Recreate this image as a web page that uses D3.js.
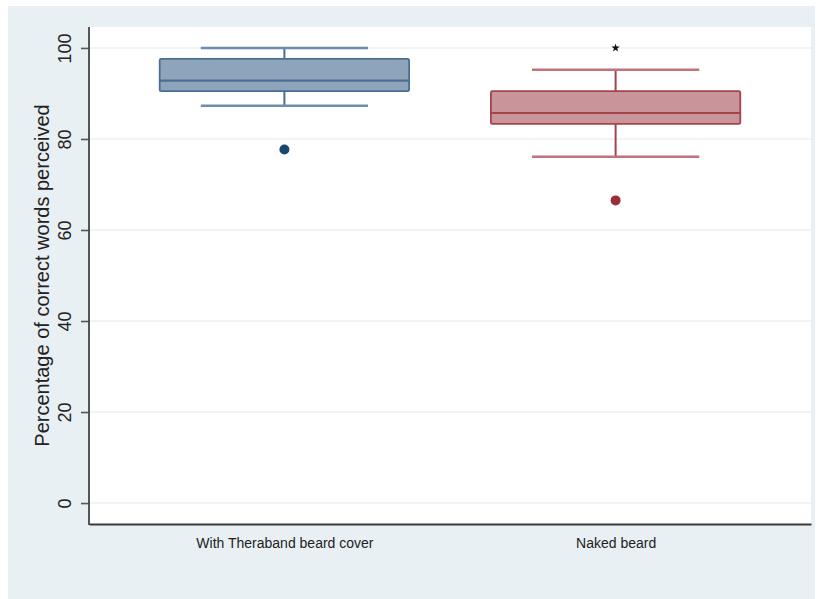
<!DOCTYPE html>
<html>
<head>
<meta charset="utf-8">
<script src="https://cdn.jsdelivr.net/npm/d3@7"></script>
<style>
  html, body { margin: 0; padding: 0; background: #ffffff; }
  svg { display: block; font-family: "Liberation Sans", Arial, Helvetica, sans-serif; }
</style>
</head>
<body>
<svg id="chart" width="819" height="599"></svg>
<script>
// Box plot summary per group
const categories = ["With Theraband beard cover", "Naked beard"];
const lowerWhisker = [87.3, 76.1];
const q1 = [90.5, 83.3];
const median = [92.8, 85.7];
const q3 = [97.6, 90.5];
const upperWhisker = [100, 95.2];
const outlierDots = [[77.7], [66.5]];
const outlierStars = [[], [100]];
const yTicks = [0, 20, 40, 60, 80, 100];
const yTitle = "Percentage of correct words perceived";

const palette = [
  { fill: "#8ea4ba", stroke: "#4a6f95", cap: "#6e8dad", dot: "#1a476f" },
  { fill: "#c9959b", stroke: "#a6444d", cap: "#c0737b", dot: "#9a2f38" }
];

const svg = d3.select("#chart");
const W = 819, H = 599;
const plot = { left: 89, right: 811, top: 27, bottom: 524 };

// outer background panel
svg.append("rect").attr("x", 8).attr("y", 6).attr("width", 807).attr("height", H - 6)
  .attr("fill", "#e9f0f3");
// plot region
svg.append("rect").attr("x", plot.left).attr("y", plot.top)
  .attr("width", plot.right - plot.left).attr("height", plot.bottom - plot.top)
  .attr("fill", "#ffffff");

const y = d3.scaleLinear().domain([-4.6, 104.6]).range([plot.bottom, plot.top]);
const x = d3.scalePoint().domain(categories).range([plot.left, plot.right]).padding(0.59);
const step = x.step();
const boxW = step * 0.753;
const capW = step * 0.505;

// gridlines
svg.append("g").selectAll("line").data(yTicks).join("line")
  .attr("x1", plot.left).attr("x2", plot.right)
  .attr("y1", d => y(d)).attr("y2", d => y(d))
  .attr("stroke", "#eaf1f2").attr("stroke-width", 1.5);

// y axis
const yAxis = svg.append("g").attr("transform", `translate(${plot.left},0)`)
  .call(d3.axisLeft(y).tickValues(yTicks).tickSize(8).tickPadding(0).tickFormat(d3.format("d")));
yAxis.select(".domain").remove();
yAxis.selectAll(".tick line").attr("stroke", "#555").attr("stroke-width", 1.6);
yAxis.selectAll(".tick text").remove();
yAxis.selectAll(".tick").append("text")
  .attr("transform", "translate(-24,0) rotate(-90)")
  .attr("text-anchor", "middle").attr("dy", "0.35em")
  .attr("fill", "#222").attr("font-size", 18)
  .text(d => d3.format("d")(d));

svg.append("line").attr("x1", plot.left).attr("x2", plot.left)
  .attr("y1", plot.top).attr("y2", plot.bottom + 1)
  .attr("stroke", "#444").attr("stroke-width", 1.8);

// x axis
const xAxis = svg.append("g").attr("transform", `translate(0,${plot.bottom})`)
  .call(d3.axisBottom(x).tickSize(0).tickPadding(14));
xAxis.select(".domain").attr("stroke", "#3a3a3a").attr("stroke-width", 2.2);
xAxis.selectAll(".tick text").attr("font-size", 14).attr("fill", "#222")
  .attr("font-family", "\"Liberation Sans\", Arial, sans-serif");

// y title
svg.append("text")
  .attr("transform", `translate(49,${(plot.top + plot.bottom) / 2}) rotate(-90)`)
  .attr("text-anchor", "middle").attr("font-size", 20).attr("fill", "#222")
  .text(yTitle);

// boxes
const groups = svg.append("g").selectAll("g").data(categories).join("g");
groups.each(function (c, i) {
  const g = d3.select(this);
  const cx = x(c);
  const col = palette[i];
  // whisker stems
  g.append("line").attr("x1", cx).attr("x2", cx)
    .attr("y1", y(upperWhisker[i])).attr("y2", y(q3[i]))
    .attr("stroke", col.stroke).attr("stroke-width", 2);
  g.append("line").attr("x1", cx).attr("x2", cx)
    .attr("y1", y(q1[i])).attr("y2", y(lowerWhisker[i]))
    .attr("stroke", col.stroke).attr("stroke-width", 2);
  // caps
  [upperWhisker[i], lowerWhisker[i]].forEach(v => {
    g.append("line").attr("x1", cx - capW / 2).attr("x2", cx + capW / 2)
      .attr("y1", y(v)).attr("y2", y(v))
      .attr("stroke", col.cap).attr("stroke-width", 2.4);
  });
  // box
  g.append("rect").attr("x", cx - boxW / 2).attr("width", boxW)
    .attr("y", y(q3[i])).attr("height", y(q1[i]) - y(q3[i]))
    .attr("rx", 1.5)
    .attr("fill", col.fill).attr("stroke", col.stroke).attr("stroke-width", 1.8);
  // median
  g.append("line").attr("x1", cx - boxW / 2).attr("x2", cx + boxW / 2)
    .attr("y1", y(median[i])).attr("y2", y(median[i]))
    .attr("stroke", col.stroke).attr("stroke-width", 2.2);
  // outliers
  g.selectAll("circle").data(outlierDots[i]).join("circle")
    .attr("cx", cx).attr("cy", v => y(v)).attr("r", 5)
    .attr("fill", col.dot);
  g.selectAll("path.star").data(outlierStars[i]).join("path")
    .attr("class", "star")
    .attr("transform", v => `translate(${cx},${y(v)})`)
    .attr("d", d3.symbol(d3.symbolStar, 22))
    .attr("fill", "#111");
});
</script>
</body>
</html>
